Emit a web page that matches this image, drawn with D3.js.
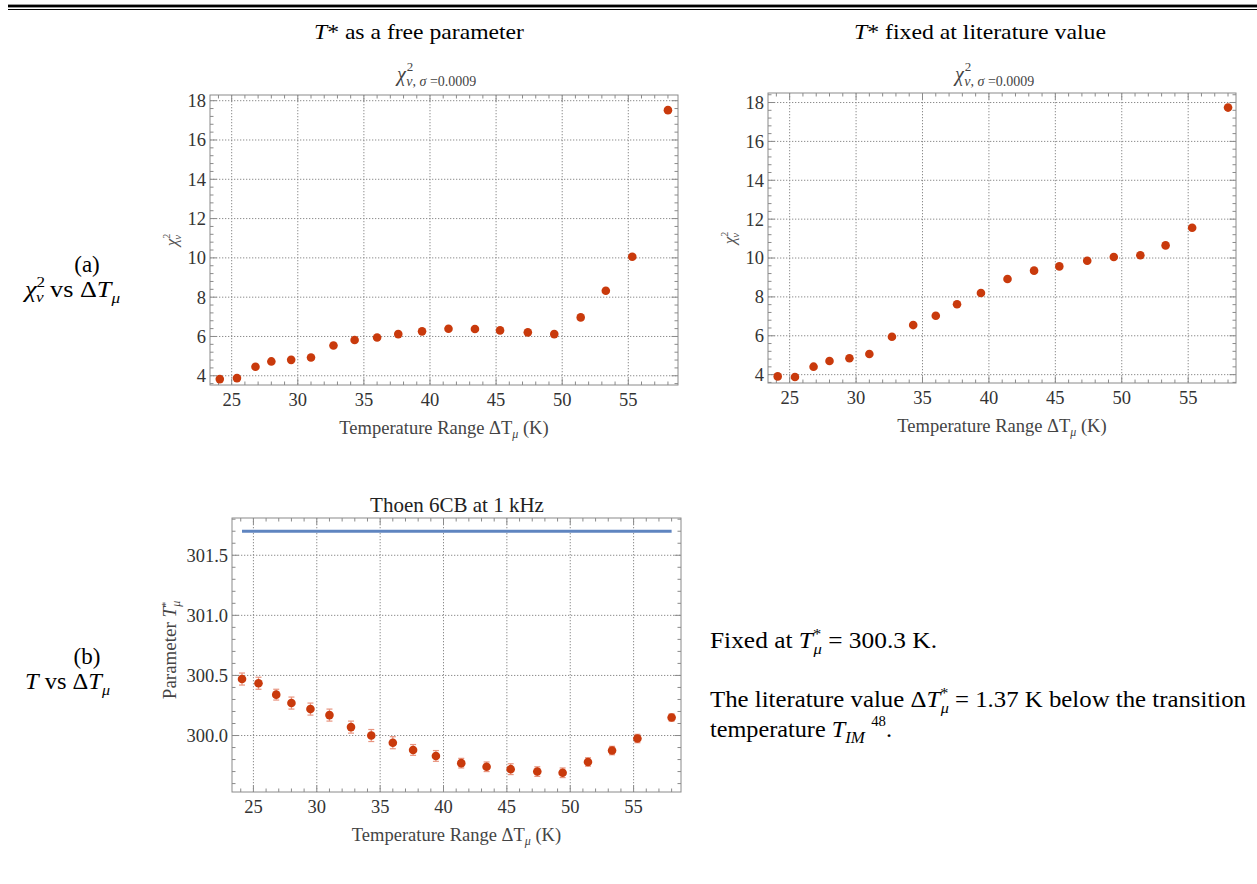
<!DOCTYPE html>
<html>
<head>
<meta charset="utf-8">
<title>Thoen 6CB fits</title>
<script src="https://d3js.org/d3.v7.min.js"></script>
<style>
  body { margin: 0; background: #fff; }
  svg { display: block; font-family: "Liberation Serif", "Times New Roman", serif; }
  .grid { stroke: #8c8c8c; stroke-width: 1; stroke-dasharray: 1.3,1.7; }
  .frame { fill: none; stroke: #8a8a8a; stroke-width: 1; }
  .tick { stroke: #8a8a8a; stroke-width: 1; }
  .ticklab { fill: #333; font-size: 18.5px; }
  .axlab { fill: #444; font-size: 18.5px; }
</style>
</head>
<body>
<svg width="1257" height="884"></svg>
<script>
// temperature range dT_mu (K), same for every panel
var dT = [24.1, 25.4, 26.8, 28.0, 29.5, 31.0, 32.7, 34.3, 36.0, 37.6, 39.4, 41.4, 43.4, 45.3, 47.4, 49.4, 51.4, 53.3, 55.3, 58.0];
// reduced chi^2, T* free
var chiFree = [3.83, 3.88, 4.46, 4.73, 4.81, 4.93, 5.54, 5.82, 5.95, 6.12, 6.26, 6.39, 6.38, 6.31, 6.21, 6.12, 6.97, 8.33, 10.06, 17.52];
// reduced chi^2, T* fixed at literature value
var chiFixed = [3.91, 3.88, 4.41, 4.70, 4.84, 5.06, 5.95, 6.55, 7.03, 7.62, 8.20, 8.92, 9.35, 9.57, 9.86, 10.05, 10.14, 10.65, 11.56, 17.74];
// fitted parameter T*_mu and its error
var tStar = [300.47, 300.435, 300.34, 300.27, 300.22, 300.17, 300.07, 300.00, 299.94, 299.88, 299.83, 299.77, 299.74, 299.72, 299.70, 299.69, 299.78, 299.875, 299.975, 300.15];
var tStarErr = [0.05, 0.05, 0.045, 0.05, 0.05, 0.05, 0.05, 0.05, 0.05, 0.045, 0.045, 0.04, 0.04, 0.045, 0.04, 0.04, 0.035, 0.035, 0.035, 0.03];
var tLit = 301.70;

var xTicks = [25, 30, 35, 40, 45, 50, 55];
var chiTicks = [4, 6, 8, 10, 12, 14, 16, 18];
var tTicks = [300.0, 300.5, 301.0, 301.5];

var red = "#c93a0c";
var svg = d3.select("svg");
svg.append("rect").attr("width", 1257).attr("height", 884).attr("fill", "#fff");

// double rule at top
svg.append("rect").attr("x", 8).attr("y", 4.6).attr("width", 1249).attr("height", 2.8).attr("fill", "#000");
svg.append("rect").attr("x", 8).attr("y", 9).attr("width", 1249).attr("height", 1).attr("fill", "#000");

// column headings
function heading(x0, len, rest) {
  var t = svg.append("text").attr("x", x0).attr("y", 39).attr("font-size", 22).attr("fill", "#000")
    .attr("textLength", len).attr("lengthAdjust", "spacingAndGlyphs");
  t.append("tspan").attr("font-style", "italic").text("T");
  t.append("tspan").text("* " + rest);
}
heading(314, 210, "as a free parameter");
heading(854, 252, "fixed at literature value");

function panel(o) {
  var x = d3.scaleLinear().domain(o.xd).range([o.left, o.left + o.w]);
  var y = d3.scaleLinear().domain(o.yd).range([o.top + o.h, o.top]);
  var g = svg.append("g");

  // grid
  g.selectAll(".gx").data(xTicks).enter().append("line").attr("class", "grid")
    .attr("x1", d => x(d)).attr("x2", d => x(d)).attr("y1", o.top).attr("y2", o.top + o.h);
  g.selectAll(".gy").data(o.yt).enter().append("line").attr("class", "grid")
    .attr("x1", o.left).attr("x2", o.left + o.w).attr("y1", d => y(d)).attr("y2", d => y(d));

  // ticks on all four sides, pointing in
  var xMinor = d3.range(24, 59, 1), yMinor = d3.range(o.ym[0], o.ym[1] + 1e-9, o.ym[2]);
  xMinor.forEach(function(v) {
    var L = (v % 5 === 0) ? 6.5 : 3.5;
    g.append("line").attr("class", "tick").attr("x1", x(v)).attr("x2", x(v)).attr("y1", o.top + o.h).attr("y2", o.top + o.h - L);
    g.append("line").attr("class", "tick").attr("x1", x(v)).attr("x2", x(v)).attr("y1", o.top).attr("y2", o.top + L);
  });
  yMinor.forEach(function(v) {
    if (y(v) < o.top || y(v) > o.top + o.h) return;
    var major = o.yt.some(t => Math.abs(t - v) < 1e-6);
    var L = major ? 6.5 : 3.5;
    g.append("line").attr("class", "tick").attr("x1", o.left).attr("x2", o.left + L).attr("y1", y(v)).attr("y2", y(v));
    g.append("line").attr("class", "tick").attr("x1", o.left + o.w).attr("x2", o.left + o.w - L).attr("y1", y(v)).attr("y2", y(v));
  });
  g.append("rect").attr("class", "frame").attr("x", o.left).attr("y", o.top).attr("width", o.w).attr("height", o.h);

  // tick labels
  g.selectAll(".xl").data(xTicks).enter().append("text").attr("class", "ticklab")
    .attr("x", d => x(d)).attr("y", o.top + o.h + 21).attr("text-anchor", "middle").text(d => d);
  g.selectAll(".yl").data(o.yt).enter().append("text").attr("class", "ticklab")
    .attr("x", o.left - 4).attr("y", d => y(d)).attr("dy", "0.35em").attr("text-anchor", "end").text(o.yf);

  // x label
  var xl = g.append("text").attr("class", "axlab").attr("x", o.left + o.w / 2).attr("y", o.top + o.h + 49)
    .attr("text-anchor", "middle");
  xl.append("tspan").text("Temperature Range \u0394T");
  xl.append("tspan").attr("font-style", "italic").attr("font-size", 12).attr("dy", 4).text("\u03bc");
  xl.append("tspan").attr("dy", -4).text(" (K)");

  return {g: g, x: x, y: y};
}

function chiTitle(x0) {
  var t = svg.append("text").attr("x", x0).attr("y", 81).attr("fill", "#444");
  t.append("tspan").attr("font-style", "italic").attr("font-size", 20).text("\u03c7");
  t.append("tspan").attr("font-size", 13).attr("dy", -10).attr("dx", 1).text("2");
  t.append("tspan").attr("font-size", 14).attr("dy", 15).attr("dx", -7).attr("font-style", "italic").text("\u03bd");
  t.append("tspan").attr("font-size", 14).text(", ");
  t.append("tspan").attr("font-size", 14).attr("font-style", "italic").text("\u03c3");
  t.append("tspan").attr("font-size", 14).text(" =0.0009");
}

function chiYLabel(cx, cy) {
  var t = svg.append("text").attr("transform", "translate(" + cx + "," + cy + ") rotate(-90)")
    .attr("text-anchor", "middle").attr("fill", "#555");
  t.append("tspan").attr("font-style", "italic").attr("font-size", 17).text("\u03c7");
  t.append("tspan").attr("font-size", 10).attr("dy", -7).text("2");
  t.append("tspan").attr("font-size", 11).attr("font-style", "italic").attr("dy", 11).attr("dx", -6).text("\u03bd");
}

function dots(p, ys) {
  p.g.selectAll(".pt").data(dT).enter().append("circle")
    .attr("cx", d => p.x(d)).attr("cy", (d, i) => p.y(ys[i])).attr("r", 4.3).attr("fill", red);
}

// (a) left: T* free
var a1 = panel({left: 210, top: 95, w: 468, h: 290, xd: [23.36, 58.76], yd: [3.53, 18.29],
  yt: chiTicks, ym: [3.6, 18.4, 0.4], yf: d => d});
dots(a1, chiFree);
chiTitle(397);
chiYLabel(177, 240);

// (a) right: T* fixed
var a2 = panel({left: 768, top: 93, w: 468, h: 290, xd: [23.37, 58.6], yd: [3.57, 18.49],
  yt: chiTicks, ym: [3.6, 18.4, 0.4], yf: d => d});
dots(a2, chiFixed);
chiTitle(955);
chiYLabel(735, 238);

// (b) T* vs dT
var b = panel({left: 232, top: 518, w: 449, h: 274, xd: [23.31, 58.74], yd: [299.53, 301.81],
  yt: tTicks, ym: [299.6, 301.8, 0.1], yf: d => d.toFixed(1)});

b.g.append("path").datum([dT[0], dT[dT.length - 1]])
  .attr("d", d3.line().x(d => b.x(d)).y(() => b.y(tLit)))
  .attr("stroke", "#5f85c0").attr("stroke-width", 3).attr("fill", "none");

var eb = b.g.selectAll(".eb").data(dT).enter().append("g").attr("stroke", "#e89580").attr("stroke-width", 1.2);
eb.append("line").attr("x1", d => b.x(d)).attr("x2", d => b.x(d))
  .attr("y1", (d, i) => b.y(tStar[i] - tStarErr[i])).attr("y2", (d, i) => b.y(tStar[i] + tStarErr[i]));
eb.append("line").attr("x1", d => b.x(d) - 3).attr("x2", d => b.x(d) + 3)
  .attr("y1", (d, i) => b.y(tStar[i] + tStarErr[i])).attr("y2", (d, i) => b.y(tStar[i] + tStarErr[i]));
eb.append("line").attr("x1", d => b.x(d) - 3).attr("x2", d => b.x(d) + 3)
  .attr("y1", (d, i) => b.y(tStar[i] - tStarErr[i])).attr("y2", (d, i) => b.y(tStar[i] - tStarErr[i]));
dots(b, tStar);

svg.append("text").attr("x", 457).attr("y", 512).attr("text-anchor", "middle")
  .attr("font-size", 21).attr("fill", "#222").text("Thoen 6CB at 1 kHz");

var bl = svg.append("text").attr("transform", "translate(176,650) rotate(-90)")
  .attr("text-anchor", "middle").attr("font-size", 19).attr("fill", "#444");
bl.append("tspan").text("Parameter ");
bl.append("tspan").attr("font-style", "italic").text("T");
bl.append("tspan").attr("font-size", 10).attr("dy", -7).text("*");
bl.append("tspan").attr("font-size", 12).attr("font-style", "italic").attr("dy", 11).attr("dx", -5).text("\u03bc");

// row labels on the left
function rowLabel(yTop, parts) {
  svg.append("text").attr("x", 87).attr("y", yTop).attr("text-anchor", "middle")
    .attr("font-size", 23).text(parts.tag);
  var t = svg.append("text").attr("x", parts.x0).attr("y", yTop + 25).attr("font-size", 23)
    .attr("textLength", parts.len).attr("lengthAdjust", "spacingAndGlyphs");
  parts.build(t);
}
rowLabel(272, {tag: "(a)", x0: 25, len: 95, build: function(t) {
  t.append("tspan").attr("font-style", "italic").text("\u03c7");
  t.append("tspan").attr("font-size", 15).attr("dy", -10).text("2");
  t.append("tspan").attr("font-size", 15).attr("font-style", "italic").attr("dy", 15).attr("dx", -8).text("\u03bd");
  t.append("tspan").attr("dy", -5).text(" vs \u0394");
  t.append("tspan").attr("font-style", "italic").text("T");
  t.append("tspan").attr("font-size", 15).attr("font-style", "italic").attr("dy", 6).text("\u03bc");
}});
rowLabel(664, {tag: "(b)", x0: 25, len: 85, build: function(t) {
  t.append("tspan").attr("font-style", "italic").text("T");
  t.append("tspan").text(" vs \u0394");
  t.append("tspan").attr("font-style", "italic").text("T");
  t.append("tspan").attr("font-size", 15).attr("font-style", "italic").attr("dy", 6).text("\u03bc");
}});

// notes beside panel (b)
function note(y, len) {
  return svg.append("text").attr("x", 710).attr("y", y).attr("font-size", 23)
    .attr("textLength", len).attr("lengthAdjust", "spacingAndGlyphs");
}
var n1 = note(648, 227);
n1.append("tspan").text("Fixed at ");
n1.append("tspan").attr("font-style", "italic").text("T");
n1.append("tspan").attr("font-size", 15).attr("dy", -9).text("*");
n1.append("tspan").attr("font-size", 15).attr("font-style", "italic").attr("dy", 15).attr("dx", -7).text("\u03bc");
n1.append("tspan").attr("dy", -6).text(" = 300.3 K.");

var n2 = note(707, 536);
n2.append("tspan").text("The literature value \u0394");
n2.append("tspan").attr("font-style", "italic").text("T");
n2.append("tspan").attr("font-size", 15).attr("dy", -9).text("*");
n2.append("tspan").attr("font-size", 15).attr("font-style", "italic").attr("dy", 15).attr("dx", -7).text("\u03bc");
n2.append("tspan").attr("dy", -6).text(" = 1.37 K below the transition");

var n3 = note(737, 182);
n3.append("tspan").text("temperature ");
n3.append("tspan").attr("font-style", "italic").text("T");
n3.append("tspan").attr("font-size", 16).attr("font-style", "italic").attr("dy", 6).text("IM");
n3.append("tspan").attr("font-size", 14).attr("dy", -17).attr("dx", 6).text("48");
n3.append("tspan").attr("dy", 11).text(".");
</script>
</body>
</html>
